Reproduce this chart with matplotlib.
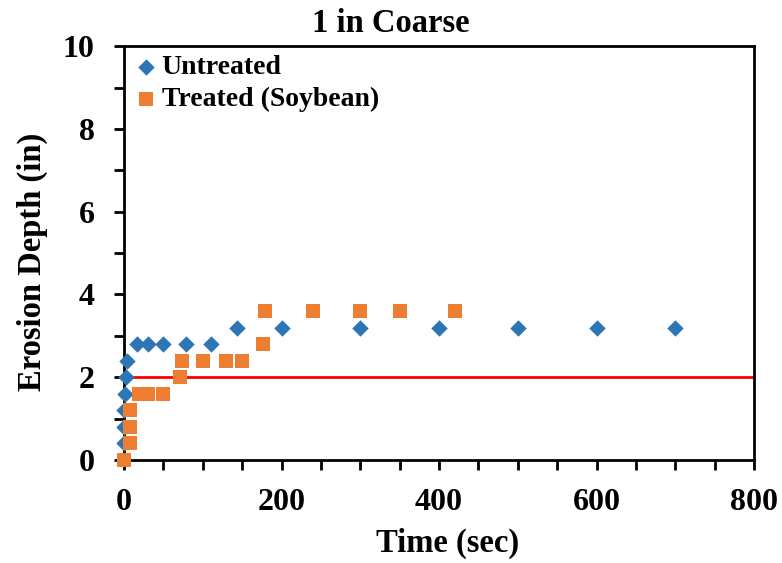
import numpy as np
import matplotlib.pyplot as plt
from matplotlib.ticker import MultipleLocator

# untreated
untreated_t = [0, 0, 0, 1, 2, 4, 16, 31, 50, 79, 110, 144, 200, 300, 400, 500, 600, 700]
untreated_d = [0.4, 0.8, 1.2, 1.6, 2.0, 2.4, 2.8, 2.8, 2.8, 2.8, 2.8, 3.2, 3.2, 3.2, 3.2, 3.2, 3.2, 3.2]

# treated (soybean)
treated_t = [0, 8, 8, 8, 19, 31, 50, 71, 74, 100, 130, 150, 177, 179, 240, 300, 350, 420]
treated_d = [0.0, 0.4, 0.8, 1.2, 1.6, 1.6, 1.6, 2.0, 2.4, 2.4, 2.4, 2.4, 2.8, 3.6, 3.6, 3.6, 3.6, 3.6]

limit_t = [0, 800]
limit_d = [2, 2]

plt.rcParams['font.family'] = ['Liberation Serif', 'DejaVu Serif']
plt.rcParams['font.weight'] = 'bold'

fig = plt.figure(figsize=(7.82, 5.63), dpi=100)
ax = fig.add_axes([0.1586, 0.183, 0.8056, 0.735])

ax.plot(limit_t, limit_d, color='#FF0000', lw=2.0, zorder=1)
ax.scatter(untreated_t, untreated_d, marker='D', s=70, color='#2E75B6', lw=0,
           label='Untreated', zorder=3, clip_on=False)
ax.scatter(treated_t, treated_d, marker='s', s=110, color='#ED7D31', lw=0,
           label='Treated (Soybean)', zorder=4, clip_on=False)

ax.set_xlim(0, 800); ax.set_ylim(0, 10)
ax.xaxis.set_major_locator(MultipleLocator(200)); ax.xaxis.set_minor_locator(MultipleLocator(50))
ax.yaxis.set_major_locator(MultipleLocator(2)); ax.yaxis.set_minor_locator(MultipleLocator(1))
ax.tick_params(axis='x', which='major', direction='out', length=7, width=2, labelsize=23, pad=13)
ax.tick_params(axis='y', which='major', direction='out', length=7, width=2, labelsize=23, pad=14)
ax.tick_params(which='minor', direction='out', length=7, width=2)
for lab in ax.get_xticklabels() + ax.get_yticklabels():
    lab.set_fontweight('bold')
for s in ax.spines.values():
    s.set_linewidth(2.0)

ax.set_xlabel('Time (sec)', fontsize=23.5, fontweight='bold', labelpad=8, x=0.514)
ax.set_ylabel('Erosion Depth (in)', fontsize=23.5, fontweight='bold', labelpad=11, y=0.478)
ax.set_title('1 in Coarse', fontsize=23.5, fontweight='bold', pad=10, x=0.424)

leg = ax.legend(loc='upper left', frameon=False, handletextpad=0.05,
                borderaxespad=0.0, borderpad=0.3, labelspacing=0.25, handlelength=1.0,
                scatterpoints=1, prop={'weight': 'bold', 'size': 20},
                bbox_to_anchor=(0.0, 1.0))

fig.savefig('out.png', dpi=100)
